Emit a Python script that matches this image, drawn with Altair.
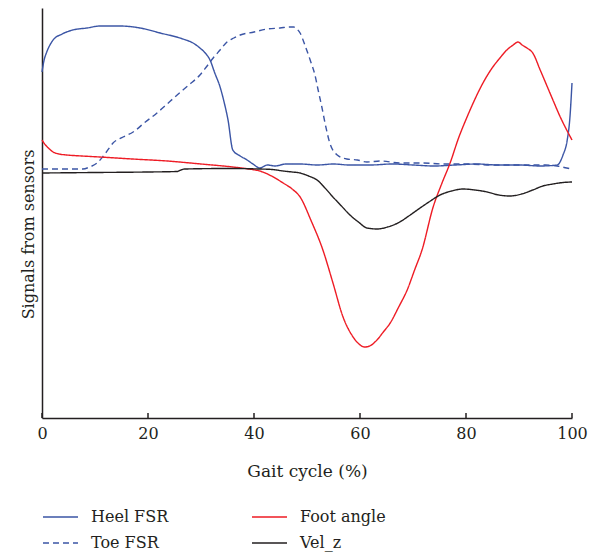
import altair as alt
import pandas as pd

# ---- data (heights; x = gait cycle %) ----
heel_x = [0, 0.4, 0.9, 2.1, 3.8, 5.8, 8.5, 10.9, 14.7, 18.5, 22.3, 26.6, 28.5, 29.8, 30.8, 31.7,
          32.6, 33.6, 34.4, 35.1, 36.0, 37.4, 38.7, 39.8, 41.1, 42.5, 44.0, 46.0, 48.7, 52, 55, 58,
          62, 66, 70, 74, 78, 82, 86, 90, 94, 97.2, 98.3, 99.1, 99.6, 100]
heel_y = [346, 358, 366, 378, 384, 388, 390, 392, 392, 390, 385, 379, 375, 370, 365, 358,
          345, 331, 315, 298, 268, 262, 258, 254, 250, 253, 252, 254, 254, 253, 254, 253,
          253, 254, 253, 252, 253, 254, 253, 253, 252, 253, 263, 278, 300, 335]

toe_x = [0, 7.7, 9.0, 10.4, 12.0, 13.4, 15.3, 17.2, 19.5, 21.7, 23.6, 25.5, 27.7, 29.8, 31.0,
         32.3, 33.6, 34.9, 36.2, 37.4, 40.0, 42.5, 44.9, 46.8, 47.5, 48.1, 48.7, 49.6, 50.6,
         51.5, 52.1, 52.8, 53.4, 54.3, 55.7, 57.5, 59.5, 61.3, 64, 67.5, 72, 75.7, 80, 85, 90,
         95, 97.2, 99, 100]
toe_y = [249, 249, 251, 255, 265, 275, 281, 286, 296, 305, 314, 323, 333, 343, 351,
         360, 368, 376, 380, 383, 386, 389, 390, 391, 391, 389, 385, 373, 358,
         343, 328, 311, 295, 275, 263, 259, 258, 256, 257, 255, 255, 254, 254, 253, 253,
         253, 252, 250, 249]

foot_x = [0, 0.5, 1.2, 2.1, 3.2, 4.7, 7.5, 10.9, 17, 23.6, 30, 36, 39, 41.1, 43.3, 45.5, 47.2,
          48.7, 50.8, 53, 54.9, 56.8, 58.7, 59.8, 60.9, 62, 63.2, 64.4, 65.7, 67.3, 68.9, 70.3,
          71.7, 73.8, 75.4, 77, 78.6, 80.2, 81.7, 83.2, 84.8, 86.4, 87.7, 88.9, 89.8, 90.6, 91.5,
          92.6, 94, 95.2, 96.4, 97.7, 99, 100]
foot_y = [278, 274, 270, 266, 264, 263, 262, 261, 259, 257, 254, 251, 249, 247, 242, 235, 229,
          221, 197, 168, 135, 101, 81, 74, 71, 72.5, 78, 86, 95, 111, 128, 148,
          168, 211, 234, 255, 280, 301, 319, 335, 349, 360, 368, 373, 376, 373, 370,
          365, 348, 333, 318, 302, 288, 278]

vel_x = [0, 10, 20, 25.5, 26.2, 27, 35, 41.1, 43.5, 45.5, 47.2, 48.7, 50.3, 51.9, 53.4, 54.9,
         56.5, 58.1, 59.7, 61.3, 63.2, 65.2, 67.5, 69.2, 70.8, 73, 75.1, 77.3, 79.4, 81.7, 84,
         86.2, 88.3, 90.5, 92.6, 94.5, 96.4, 98.3, 100]
vel_y = [245, 245.5, 246, 246.5, 248, 249, 249.5, 249, 248.5, 247, 246, 245, 242, 238, 230, 221,
         212, 203, 196, 190, 189, 191, 196, 202, 208, 216, 223, 227, 229, 228, 226,
         223, 222, 224, 228, 232, 234, 235.5, 236]

series_names = ["Heel FSR", "Toe FSR", "Foot angle", "Vel_z"]
series_colors = ["#3b55a5", "#3b55a5", "#ee1c25", "#231f20"]
series_dashes = [[1, 0], [6, 4], [1, 0], [1, 0]]
tick_values = [0, 20, 40, 60, 80, 100]

rows = []
for name, xs, ys in [("Heel FSR", heel_x, heel_y), ("Toe FSR", toe_x, toe_y),
                     ("Foot angle", foot_x, foot_y), ("Vel_z", vel_x, vel_y)]:
    for i, (a, b) in enumerate(zip(xs, ys)):
        rows.append({"series": name, "x": a, "y": b, "i": i})
df = pd.DataFrame(rows)
ticks_df = pd.DataFrame({"t": tick_values})

FONT = "DejaVu Serif"
INK = "#231f20"

legend = alt.Legend(
    title=None, orient="none", legendX=0, legendY=499, columns=2,
    symbolType="stroke", symbolSize=1225, symbolStrokeWidth=1.5, clipHeight=20,
    rowPadding=6, columnPadding=82, labelFont=FONT, labelFontSize=16,
    labelColor=INK, labelOffset=12,
)

xscale = alt.Scale(domain=[0, 100], nice=False)
yscale = alt.Scale(domain=[0, 410], nice=False, zero=False)

lines = alt.Chart(df).mark_line(strokeWidth=1.4, interpolate="monotone").encode(
    x=alt.X("x:Q", scale=xscale, axis=alt.Axis(
        values=tick_values, title="Gait cycle (%)", ticks=False, grid=False,
        labelFont=FONT, labelFontSize=16, labelColor=INK, labelPadding=7, labelFlush=False,
        domainColor=INK, domainWidth=1.5,
        titleFont=FONT, titleFontSize=17, titleFontWeight="normal", titleColor=INK,
        titleY=58, titleBaseline="alphabetic")),
    y=alt.Y("y:Q", scale=yscale, axis=alt.Axis(
        labels=False, ticks=False, grid=False, domainColor=INK, domainWidth=1.5,
        title="Signals from sensors", titleFont=FONT, titleFontSize=16,
        titleFontWeight="normal", titleColor=INK, titleX=-9, titleY=226,
        titleAngle=270, titleAlign="center", titleBaseline="alphabetic")),
    color=alt.Color("series:N", scale=alt.Scale(domain=series_names, range=series_colors),
                    legend=legend),
    strokeDash=alt.StrokeDash("series:N", scale=alt.Scale(domain=series_names, range=series_dashes),
                              legend=legend),
    order="i:Q",
)

tick_marks = alt.Chart(ticks_df).mark_rule(color=INK, strokeWidth=1.5).encode(
    x=alt.X("t:Q", scale=xscale),
    y=alt.value(405),
    y2=alt.value(410),
)

chart = alt.layer(tick_marks, lines).properties(
    width=530, height=410,
    autosize=alt.AutoSizeParams(type="none"),
    padding={"left": 34, "top": 0, "right": 20, "bottom": 135},
).configure_view(stroke=None)

chart.save("out.html", embed_options={"renderer": "svg", "actions": False})
